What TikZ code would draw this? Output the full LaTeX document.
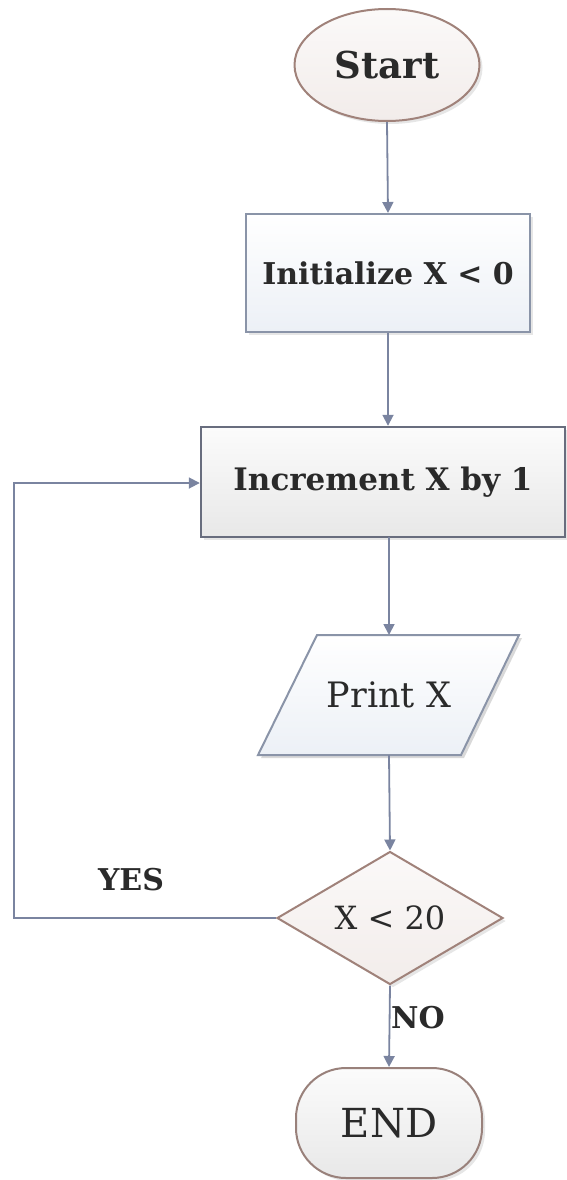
\documentclass[tikz,border=0pt]{standalone}
\usepackage{fontspec}
\setmainfont{DejaVu Serif}
\usetikzlibrary{shapes.geometric,shadows,arrows.meta}
\definecolor{arrowc}{HTML}{7A84A0}
\definecolor{brownb}{HTML}{A0827A}
\definecolor{blueb}{HTML}{8A94A8}
\definecolor{darkb}{HTML}{686D7E}
\definecolor{txt}{HTML}{2A2A2A}
\definecolor{lightblue}{HTML}{ECF0F6}
\definecolor{lightbrown}{HTML}{F2ECEA}
\definecolor{lightgray}{HTML}{E8E8E8}
\tikzset{
  conn/.style={draw=arrowc, line width=1.8pt, -{Triangle[length=11pt,width=11pt]}},
  shad/.style={drop shadow={opacity=0.2, shadow xshift=3pt, shadow yshift=-3pt}},
  lbl/.style={font=\bfseries\fontsize{30}{34}\selectfont, text=txt}
}
\begin{document}
\begin{tikzpicture}[x=1pt,y=-1pt, every node/.append style={text=txt}]
\useasboundingbox (0,0) rectangle (567,1180);
% Start
\node (start) [ellipse, draw=brownb, line width=2pt, top color=white!70!lightbrown, bottom color=lightbrown,
  minimum width=185pt, minimum height=112pt, inner sep=0pt, shad,
  font=\bfseries\fontsize{37}{42}\selectfont] at (387,65) {Start};
% Initialize
\node (init) [rectangle, draw=blueb, line width=2pt, top color=white, bottom color=lightblue,
  minimum width=284pt, minimum height=118pt, inner sep=0pt, shad,
  font=\bfseries\fontsize{30}{34}\selectfont] at (388,273) {Initialize X < 0};
% Increment
\node (inc) [rectangle, draw=darkb, line width=2.4pt, top color=white!97!gray, bottom color=lightgray,
  minimum width=364pt, minimum height=110pt, inner sep=0pt, shad,
  font=\bfseries\fontsize{31}{35}\selectfont] at (383,482) {Increment X by 1};
% Print (parallelogram)
\coordinate (ptl) at (317,635);
\coordinate (ptr) at (519,635);
\coordinate (pbr) at (461,755);
\coordinate (pbl) at (258,755);
\fill[black, opacity=0.15] ([shift={(3pt,-3pt)}]ptl) -- ([shift={(3pt,-3pt)}]ptr) -- ([shift={(3pt,-3pt)}]pbr) -- ([shift={(3pt,-3pt)}]pbl) -- cycle;
\shade[top color=white, bottom color=lightblue] (ptl) -- (ptr) -- (pbr) -- (pbl) -- cycle;
\draw[blueb, line width=2pt] (ptl) -- (ptr) -- (pbr) -- (pbl) -- cycle;
\node (print) [font=\fontsize{35}{40}\selectfont, inner sep=0pt] at (389,695) {Print X};
\coordinate (printtop) at (389,635);
\coordinate (printbot) at (389,755);
% Decision
\node (dec) [diamond, draw=brownb, line width=2pt, top color=white!70!lightbrown, bottom color=lightbrown,
  minimum width=226pt, minimum height=133pt, inner sep=0pt, aspect=1.7, shad,
  font=\fontsize{32}{36}\selectfont] at (390,918) {X < 20};
% End
\node (end) [rectangle, rounded corners=50pt, draw=brownb!80!gray, line width=2pt, top color=white!97!gray, bottom color=lightgray,
  minimum width=186pt, minimum height=110pt, inner sep=0pt, shad,
  font=\fontsize{40}{44}\selectfont] at (389,1123) {END};
% connectors
\draw[conn] (start.south) -- (init.north);
\draw[conn] (init.south) -- (init.south |- inc.north);
\draw[conn] (389,537) -- (printtop);
\draw[conn] (printbot) -- (dec.north);
\draw[conn] (dec.south) -- (end.north);
\coordinate (c1) at (14,918);
\coordinate (c2) at (14,483);
\draw[conn] (dec.west) -- (c1) -- (c2) -- (inc.west |- c2);
% labels
\node (yes) [lbl] at (131,880) {YES};
\node (no) [lbl] at (418,1018) {NO};
\end{tikzpicture}
\end{document}
